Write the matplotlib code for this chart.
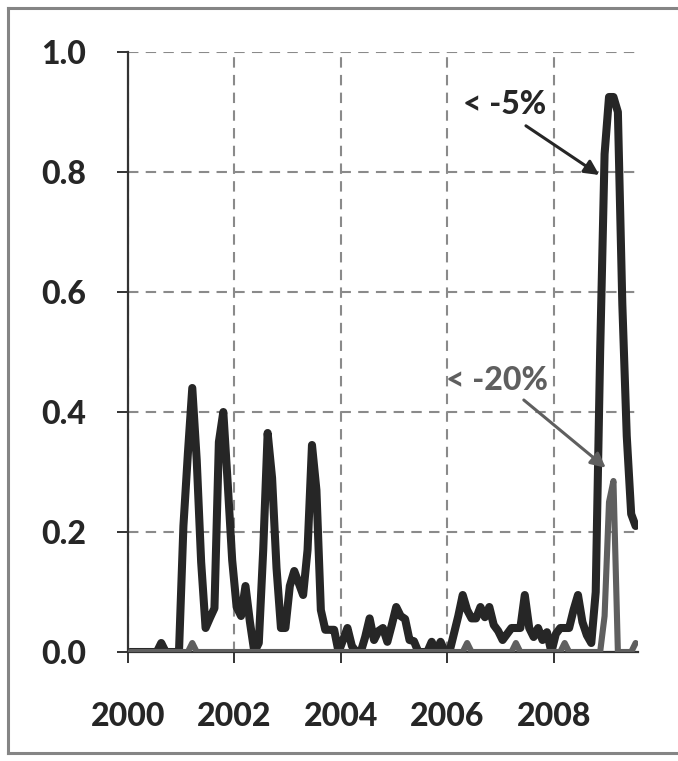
import matplotlib
matplotlib.use("Agg")
import matplotlib.pyplot as plt
from matplotlib.lines import Line2D
import numpy as np

plt.rcParams['font.family'] = ['Lato', 'DejaVu Sans']

# monthly share of observations below thresholds, Jan 2000 .. Jul 2009
below_5 = [
    0, 0, 0, 0, 0, 0, 0, 0.015, 0, 0, 0, 0,                    # 2000
    0.21, 0.33, 0.44, 0.32, 0.15, 0.04, 0.057, 0.073, 0.35, 0.40, 0.28, 0.153,   # 2001
    0.075, 0.06, 0.11, 0.05, 0.0, 0.015, 0.17, 0.365, 0.29, 0.14, 0.04, 0.04,    # 2002
    0.11, 0.135, 0.115, 0.095, 0.17, 0.345, 0.27, 0.07, 0.037, 0.037, 0.037, 0.0,  # 2003
    0.02, 0.04, 0.01, 0.0, 0.0, 0.025, 0.056, 0.02, 0.035, 0.04, 0.017, 0.045,    # 2004
    0.075, 0.06, 0.055, 0.02, 0.018, 0, 0, 0, 0.017, 0, 0.017, 0,                # 2005
    0, 0.03, 0.06, 0.095, 0.07, 0.056, 0.056, 0.075, 0.058, 0.075, 0.045, 0.035,  # 2006
    0.02, 0.03, 0.04, 0.04, 0.04, 0.095, 0.04, 0.025, 0.04, 0.02, 0.033, 0,       # 2007
    0.03, 0.04, 0.04, 0.04, 0.07, 0.095, 0.05, 0.028, 0.015, 0.1, 0.5, 0.83,     # 2008
    0.925, 0.925, 0.90, 0.58, 0.36, 0.23, 0.21,                                  # 2009
]
below_20 = [0.0] * len(below_5)
below_20[14] = 0.015
below_20[76] = 0.015
below_20[87] = 0.015
below_20[98] = 0.015
below_20[107] = 0.06
below_20[108] = 0.25
below_20[109] = 0.285
below_20[114] = 0.015

year_ticks = [2000, 2002, 2004, 2006, 2008]
y_ticks = [0.0, 0.2, 0.4, 0.6, 0.8, 1.0]
label_5 = "< -5%"
label_20 = "< -20%"

dates = 2000 + (np.arange(len(below_5)) + 0.5) / 12.0

fig = plt.figure(figsize=(6.78, 7.61), dpi=100)
ax = fig.add_axes([128/678, 1-652/761, (638-128)/678, (652-52)/761])

ax.plot(dates, below_5, color='#262626', lw=5.8, solid_joinstyle='round', solid_capstyle='round', zorder=3)
ax.plot(dates, below_20, color='#5f5f5f', lw=4.4, solid_joinstyle='round', solid_capstyle='round', zorder=4)

ax.set_xlim(2000, 2000 + (638-128)/53.2)
ax.set_ylim(0, 1.0)
ax.set_xticks(year_ticks)
ax.set_xticklabels([str(y) for y in year_ticks])
ax.set_yticks(y_ticks)
ax.set_yticklabels([f"{v:.1f}" for v in y_ticks])

ax.grid(True, color='#8a8a8a', lw=1.5, linestyle=(0, (5, 3.5)))
ax.set_axisbelow(True)
for s in ['top', 'right']:
    ax.spines[s].set_visible(False)
for s in ['left', 'bottom']:
    ax.spines[s].set_color('#333333')
    ax.spines[s].set_linewidth(1.6)

ax.tick_params(axis='both', direction='out', length=8, width=1.4, color='#333333',
               labelsize=23, labelcolor='#262626')
ax.tick_params(axis='x', pad=28)
ax.tick_params(axis='y', pad=22)
for lab in ax.get_xticklabels() + ax.get_yticklabels():
    lab.set_fontweight('black')

ax.text(2007.07, 0.912, label_5, ha='center', va='center', fontsize=23,
        fontweight='black', color='#262626')
ax.annotate('', xy=(2008.86, 0.795), xytext=(2007.48, 0.877),
            arrowprops=dict(arrowstyle='-|>', color='#262626', lw=2.2, mutation_scale=22,
                            shrinkA=0, shrinkB=0))
ax.text(2006.94, 0.453, label_20, ha='center', va='center', fontsize=23,
        fontweight='black', color='#5f5f5f')
ax.annotate('', xy=(2008.98, 0.307), xytext=(2007.44, 0.42),
            arrowprops=dict(arrowstyle='-|>', color='#5f5f5f', lw=2.2, mutation_scale=22,
                            shrinkA=0, shrinkB=0))

# outer frame
fc = '#858585'
fig.add_artist(Line2D([8/678, 8/678], [8/761, 1-8/761], color=fc, lw=2.2, transform=fig.transFigure))
fig.add_artist(Line2D([8/678, 1.0], [1-8/761, 1-8/761], color=fc, lw=2.2, transform=fig.transFigure))
fig.add_artist(Line2D([8/678, 1.0], [8/761, 8/761], color=fc, lw=2.2, transform=fig.transFigure))

fig.savefig("out.png", dpi=100)
